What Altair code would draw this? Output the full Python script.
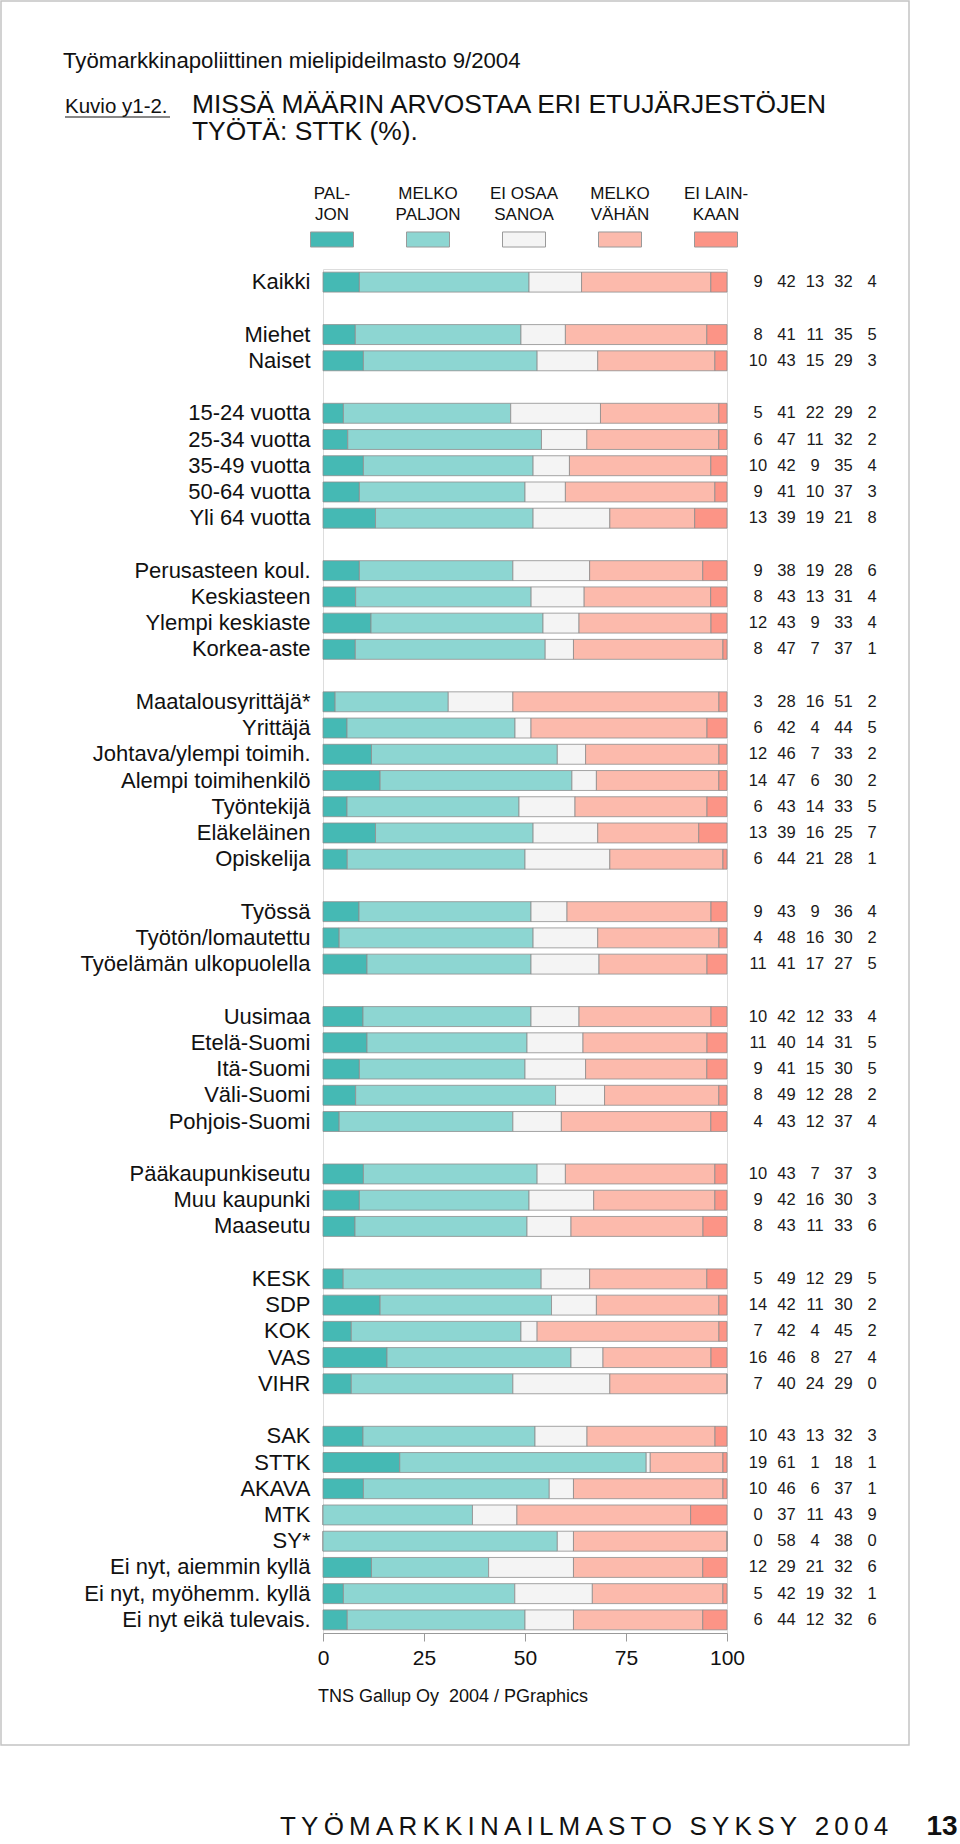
import altair as alt
import pandas as pd

# ---------------- data ----------------
groups = [
    ["Kaikki"],
    ["Miehet", "Naiset"],
    ["15-24 vuotta", "25-34 vuotta", "35-49 vuotta", "50-64 vuotta", "Yli 64 vuotta"],
    ["Perusasteen koul.", "Keskiasteen", "Ylempi keskiaste", "Korkea-aste"],
    ["Maatalousyrittäjä*", "Yrittäjä", "Johtava/ylempi toimih.", "Alempi toimihenkilö",
     "Työntekijä", "Eläkeläinen", "Opiskelija"],
    ["Työssä", "Työtön/lomautettu", "Työelämän ulkopuolella"],
    ["Uusimaa", "Etelä-Suomi", "Itä-Suomi", "Väli-Suomi", "Pohjois-Suomi"],
    ["Pääkaupunkiseutu", "Muu kaupunki", "Maaseutu"],
    ["KESK", "SDP", "KOK", "VAS", "VIHR"],
    ["SAK", "STTK", "AKAVA", "MTK", "SY*", "Ei nyt, aiemmin kyllä",
     "Ei nyt, myöhemm. kyllä", "Ei nyt eikä tulevais."],
]

paljon = [9, 8, 10, 5, 6, 10, 9, 13, 9, 8, 12, 8, 3, 6, 12, 14, 6, 13, 6, 9, 4, 11,
          10, 11, 9, 8, 4, 10, 9, 8, 5, 14, 7, 16, 7, 10, 19, 10, 0, 0, 12, 5, 6]
melko_paljon = [42, 41, 43, 41, 47, 42, 41, 39, 38, 43, 43, 47, 28, 42, 46, 47, 43, 39, 44, 43, 48, 41,
                42, 40, 41, 49, 43, 43, 42, 43, 49, 42, 42, 46, 40, 43, 61, 46, 37, 58, 29, 42, 44]
ei_osaa = [13, 11, 15, 22, 11, 9, 10, 19, 19, 13, 9, 7, 16, 4, 7, 6, 14, 16, 21, 9, 16, 17,
           12, 14, 15, 12, 12, 7, 16, 11, 12, 11, 4, 8, 24, 13, 1, 6, 11, 4, 21, 19, 12]
melko_vahan = [32, 35, 29, 29, 32, 35, 37, 21, 28, 31, 33, 37, 51, 44, 33, 30, 33, 25, 28, 36, 30, 27,
               33, 31, 30, 28, 37, 37, 30, 33, 29, 30, 45, 27, 29, 32, 18, 37, 43, 38, 32, 32, 32]
ei_lainkaan = [4, 5, 3, 2, 2, 4, 3, 8, 6, 4, 4, 1, 2, 5, 2, 2, 5, 7, 1, 4, 2, 5,
               4, 5, 5, 2, 4, 3, 3, 6, 5, 2, 2, 4, 0, 3, 1, 1, 9, 0, 6, 1, 6]

series = ["PALJON", "MELKO PALJON", "EI OSAA SANOA", "MELKO VÄHÄN", "EI LAINKAAN"]
legend_top = ["PAL-", "MELKO", "EI OSAA", "MELKO", "EI LAIN-"]
legend_bottom = ["JON", "PALJON", "SANOA", "VÄHÄN", "KAAN"]
colors = ["#45b9b4", "#8dd6d2", "#f4f4f4", "#fcbaac", "#fc9486"]
axis_ticks = [0, 25, 50, 75, 100]

title_top = "Työmarkkinapoliittinen mielipideilmasto 9/2004"
figure_no = "Kuvio y1-2."
title_main_1 = "MISSÄ MÄÄRIN ARVOSTAA ERI ETUJÄRJESTÖJEN"
title_main_2 = "TYÖTÄ: STTK (%)."
source_text = "TNS Gallup Oy\u00a0 2004 / PGraphics"
page_text = "TYÖMARKKINAILMASTO SYKSY 2004"
page_no = "13"

# ---------------- tables ----------------
labels = [lab for g in groups for lab in g]
slots = []
for i, g in enumerate(groups):
    if i > 0:
        slots.append(" " * i)  # blank spacer row
    slots.extend(g)

cols = [paljon, melko_paljon, ei_osaa, melko_vahan, ei_lainkaan]
recs = []
for r, lab in enumerate(labels):
    for s, name in enumerate(series):
        recs.append({"row": lab, "series": name, "sidx": s, "value": cols[s][r]})
df = pd.DataFrame(recs)

leg = pd.DataFrame({"series": series, "top": legend_top, "bottom": legend_bottom})
one = pd.DataFrame({"a": [0]})

FONT = "Liberation Sans"

y_enc = alt.Y(
    "row:N",
    sort=slots,
    scale=alt.Scale(domain=slots, paddingInner=0.24, paddingOuter=0.12),
    axis=alt.Axis(title=None, labelFontSize=22, labelColor="#111", ticks=False,
                  domain=False, labelPadding=13, labelLimit=400, labelFont=FONT),
)
color_enc = alt.Color("series:N", scale=alt.Scale(domain=series, range=colors), legend=None)

bars = alt.Chart(df).mark_bar(stroke="#8e8e8e", strokeWidth=0.8).encode(
    y=y_enc,
    x=alt.X(
        "value:Q",
        stack="normalize",
        scale=alt.Scale(domain=[0, 1], nice=False),
        axis=alt.Axis(values=[t / 100 for t in axis_ticks],
                      labelExpr="format(datum.value*100, 'd')",
                      title=None, grid=False, domainColor="#9a9a9a", tickColor="#9a9a9a",
                      tickSize=8, labelFontSize=21, labelPadding=6, labelColor="#111",
                      labelFlush=False, labelFont=FONT),
    ),
    color=color_enc,
    order=alt.Order("sidx:Q"),
)

nums = alt.Chart(df).mark_text(fontSize=16.5, font=FONT, color="#1a1a1a").encode(
    y=y_enc,
    x=alt.X("series:N", scale=alt.Scale(type="point", domain=series, range=[435, 549], padding=0),
            axis=None),
    text=alt.Text("value:Q"),
)

leg_x = alt.X("series:N", scale=alt.Scale(type="point", domain=series, range=[9, 393], padding=0),
              axis=None)
swatch = alt.Chart(leg).mark_point(
    shape="M-1,-0.35L1,-0.35L1,0.35L-1,0.35Z", size=1849, filled=True, opacity=1,
    stroke="#9a9a9a", strokeWidth=1,
).encode(x=leg_x, y=alt.value(-29.5), color=color_enc)
leg_t1 = alt.Chart(leg).mark_text(fontSize=17, font=FONT, color="#111", baseline="alphabetic").encode(
    x=leg_x, y=alt.value(-70.5), text="top:N")
leg_t2 = alt.Chart(leg).mark_text(fontSize=17, font=FONT, color="#111", baseline="alphabetic").encode(
    x=leg_x, y=alt.value(-49.5), text="bottom:N")


def label(txt, x, y, size, align="left", weight="normal", baseline="alphabetic"):
    return alt.Chart(one).mark_text(text=txt, fontSize=size, font=FONT, color="#111",
                                     align=align, fontWeight=weight, baseline=baseline).encode(
        x=alt.value(x), y=alt.value(y))


frame = alt.Chart(one).mark_rect(filled=False, stroke="#c4c4c4", strokeWidth=1.5).encode(
    x=alt.value(-322), x2=alt.value(586), y=alt.value(-268), y2=alt.value(1476))
underline = alt.Chart(one).mark_rule(color="#111", strokeWidth=1.2).encode(
    x=alt.value(-258), x2=alt.value(-153), y=alt.value(-152))

spaced = "\u2009".join(page_text)

chart = alt.layer(
    frame, bars, nums, swatch, leg_t1, leg_t2,
    label(title_top, -260, -201, 22.2),
    label(figure_no, -258, -156, 20.5),
    underline,
    label(title_main_1, -131, -156, 26.4),
    label(title_main_2, -131, -129, 26.4),
    label(source_text, -5, 1428, 18, baseline="middle"),
    label(spaced, -43, 1566, 26, baseline="alphabetic"),
    label(page_no, 619, 1566, 28, align="center", weight="bold", baseline="alphabetic"),
).resolve_scale(x="independent").properties(
    width=404, height=1364,
    padding={"left": 323, "top": 269, "right": 233, "bottom": 211},
    autosize=alt.AutoSizeParams(type="none"),
    background="white",
).configure_view(stroke=None).configure(font=FONT)

chart.save("out.html", embed_options={"renderer": "svg", "actions": False})
